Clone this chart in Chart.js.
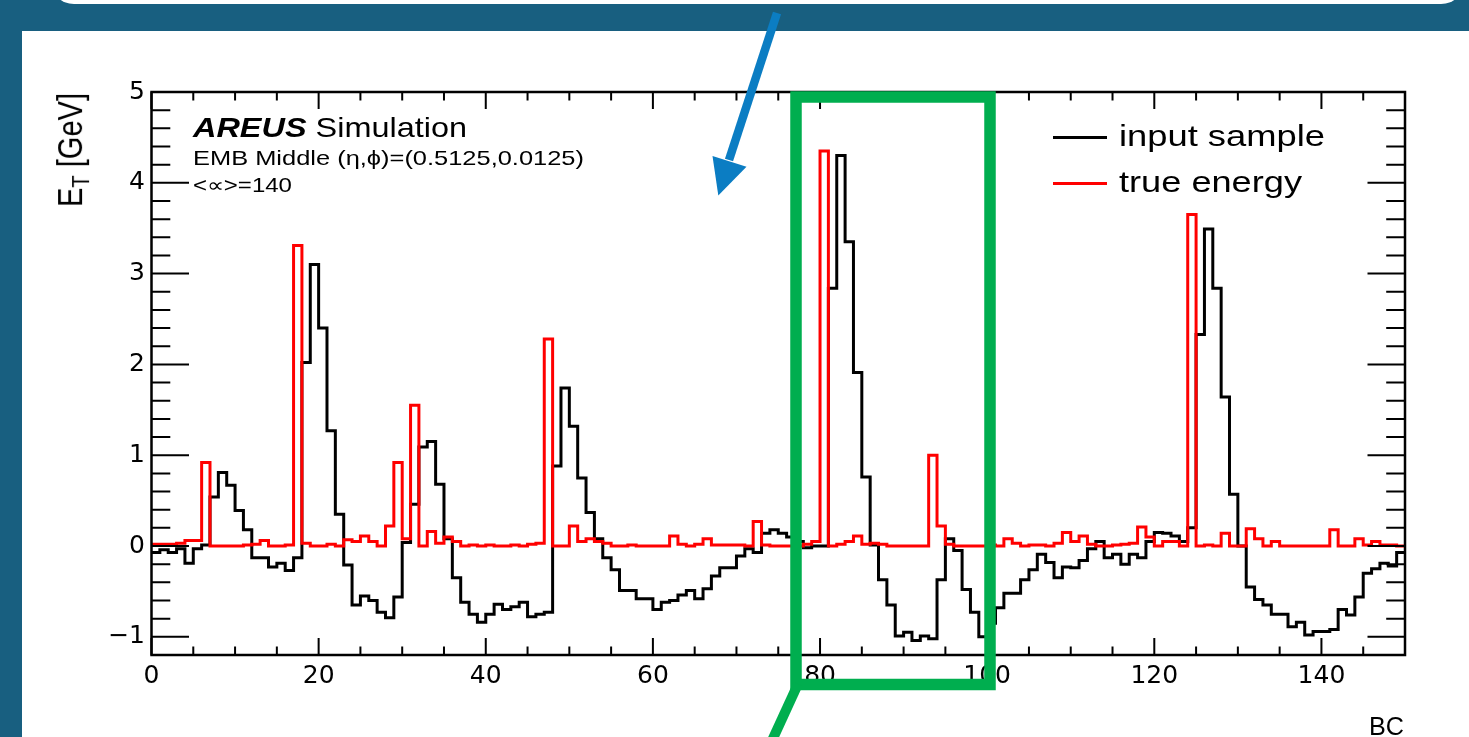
<!DOCTYPE html>
<html><head><meta charset="utf-8">
<script src="https://cdn.jsdelivr.net/npm/chart.js@4.4.1/dist/chart.umd.min.js"></script>
<style>
html,body{margin:0;padding:0;width:1469px;height:737px;overflow:hidden;background:#185f80;font-family:"Liberation Sans",Arial,Helvetica,sans-serif;}
#topbar{position:absolute;left:50px;right:4px;top:-30px;height:33.5px;background:#fff;border-radius:0 0 24px 24px;}
#panel{position:absolute;left:22px;top:30.5px;right:0;bottom:0;background:#fff;}
#c{position:absolute;left:0;top:0;}
.txt{position:absolute;left:0;top:0;white-space:nowrap;line-height:1;color:#000;transform-origin:0 0;}
.lg{position:absolute;height:3px;}
svg{position:absolute;left:0;top:0;}
</style></head>
<body>
<div id="topbar"></div><div id="panel"></div>
<canvas id="c" width="1469" height="737"></canvas>
<div class="txt fit" data-w="274" style="left:193px;top:114.3px;font-size:28px;"><b><i>AREUS</i></b> Simulation</div>
<div class="txt fit" data-w="391" style="left:193px;top:147.2px;font-size:21px;">EMB Middle (η,ϕ)=(0.5125,0.0125)</div>
<div class="txt fit" data-w="99" style="left:193px;top:175px;font-size:20px;">&lt;∝&gt;=140</div>
<div class="txt fit" data-w="35" style="left:1369px;top:713px;font-size:26px;" id="xtitle">BC</div>
<div class="txt" id="ytitle" style="font-size:29px;transform:translate(53.5px,93px) rotate(-90deg) scaleY(1.2) translateX(-100%);">E<span style="font-size:70%;position:relative;top:0.32em">T</span> [GeV]</div>
<div id="legend"></div>
<svg width="1469" height="737">
  <line x1="777" y1="13" x2="729" y2="160" stroke="#0b7dc3" stroke-width="8.5"/>
  <polygon points="718.3,195.5 712.5,156 746.5,166.7" fill="#0b7dc3"/>
  <rect x="796" y="97" width="194" height="587.5" fill="none" stroke="#00ae4f" stroke-width="11.5"/>
  <line x1="798" y1="684" x2="770" y2="745" stroke="#00ae4f" stroke-width="10"/>
</svg>
<script>
// ---- data ----
const seriesNames = ['input sample', 'true energy'];
const inputSample = [
 -0.07,-0.04,-0.07,-0.03,-0.19,-0.03,0.01,0.54,0.81,0.67,
 0.39,0.18,-0.13,-0.13,-0.23,-0.19,-0.27,-0.13,2.02,3.10,
 2.40,1.27,0.35,-0.21,-0.65,-0.55,-0.60,-0.73,-0.79,-0.56,
 0.04,0.46,1.09,1.15,0.68,0.08,-0.35,-0.62,-0.75,-0.84,
 -0.75,-0.64,-0.70,-0.67,-0.62,-0.78,-0.75,-0.73,0.88,1.74,
 1.32,0.75,0.37,0.08,-0.13,-0.26,-0.49,-0.49,-0.58,-0.58,
 -0.70,-0.62,-0.60,-0.54,-0.49,-0.58,-0.47,-0.33,-0.24,-0.24,
 -0.11,-0.03,-0.07,0.14,0.18,0.14,0.10,0.05,-0.02,0.00,
 0.00,2.84,4.30,3.35,1.91,0.76,0.01,-0.37,-0.65,-0.99,
 -0.95,-1.04,-0.99,-1.02,-0.37,0.08,-0.05,-0.48,-0.73,-1.00,
 -0.85,-0.68,-0.52,-0.52,-0.37,-0.26,-0.09,-0.18,-0.35,-0.23,
 -0.24,-0.16,-0.03,0.05,-0.13,-0.09,-0.20,-0.09,-0.13,0.05,
 0.15,0.14,0.11,0.05,0.20,2.33,3.49,2.84,1.64,0.57,
 0.00,-0.45,-0.59,-0.65,-0.75,-0.75,-0.89,-0.84,-0.98,-0.94,
 -0.94,-0.92,-0.70,-0.76,-0.56,-0.30,-0.25,-0.19,-0.22,-0.07
];
const trueEnergy = [
 0.02,0.02,0.02,0.03,0.06,0.06,0.92,0.00,0.00,0.00,
 0.00,0.01,0.02,0.06,0.00,0.00,0.01,3.31,0.03,0.00,
 0.00,0.02,0.00,0.07,0.05,0.11,0.05,0.00,0.22,0.92,
 0.08,1.55,0.00,0.16,0.03,0.10,0.05,0.00,0.01,0.00,
 0.01,0.00,0.00,0.01,0.00,0.02,0.03,2.28,0.00,0.00,
 0.22,0.05,0.08,0.05,0.03,0.00,0.00,0.01,0.00,0.00,
 0.00,0.00,0.11,0.02,0.00,0.02,0.08,0.01,0.01,0.01,
 0.01,0.00,0.27,0.01,0.00,0.00,0.00,0.00,0.02,0.05,
 4.35,0.00,0.02,0.05,0.11,0.02,0.03,0.02,0.00,0.00,
 0.00,0.00,0.00,1.00,0.22,0.02,0.00,0.00,0.00,0.00,
 0.01,0.00,0.08,0.03,0.00,0.01,0.01,0.00,0.03,0.15,
 0.05,0.11,0.02,0.00,0.00,0.01,0.02,0.03,0.21,0.10,
 0.00,0.05,0.05,0.00,3.65,0.00,0.01,0.00,0.14,0.00,
 0.00,0.19,0.08,0.00,0.05,0.00,0.00,0.00,0.00,0.00,
 0.00,0.18,0.00,0.00,0.08,0.01,0.05,0.01,0.01,0.00
];
const xTickValues = [0, 20, 40, 60, 80, 100, 120, 140];
const yTickValues = [-1, 0, 1, 2, 3, 4, 5];
const seriesColors = ['#000000', '#ff0000'];

// ---- axis ranges ----
const X_MIN = 0, X_MAX = 150, Y_MIN = -1.2, Y_MAX = 5;
const X_MINOR = 5, X_MAJOR = 20, Y_MINOR = 0.2, Y_MAJOR = 1;
const TICK_FONT = '"DejaVu Sans", "Liberation Sans", Arial, sans-serif';

function histPoints(vals) {
  const pts = vals.map((v, i) => ({ x: X_MIN + i, y: v }));
  pts.push({ x: X_MIN + vals.length, y: vals[vals.length - 1] });
  return pts;
}

const frameTicks = {
  id: 'frameTicks',
  afterDatasetsDraw(chart) {
    const { ctx, chartArea: a, scales: { x, y } } = chart;
    ctx.save();
    ctx.strokeStyle = '#000';
    ctx.lineWidth = 2;
    ctx.beginPath();
    const nx = Math.round((X_MAX - X_MIN) / X_MINOR);
    for (let k = 0; k <= nx; k++) {
      const v = X_MIN + k * X_MINOR;
      const px = x.getPixelForValue(v);
      const major = Math.abs(v / X_MAJOR - Math.round(v / X_MAJOR)) < 1e-6;
      const L = major ? 17 : 8.5;
      ctx.moveTo(px, a.bottom); ctx.lineTo(px, a.bottom - L);
      ctx.moveTo(px, a.top); ctx.lineTo(px, a.top + L);
    }
    const ny = Math.round((Y_MAX - Y_MIN) / Y_MINOR);
    for (let k = 0; k <= ny; k++) {
      const v = Y_MIN + k * Y_MINOR;
      const py = y.getPixelForValue(v);
      const major = Math.abs(v / Y_MAJOR - Math.round(v / Y_MAJOR)) < 1e-6;
      const L = major ? 37.5 : 18.8;
      ctx.moveTo(a.left, py); ctx.lineTo(a.left + L, py);
      ctx.moveTo(a.right, py); ctx.lineTo(a.right - L, py);
    }
    ctx.stroke();
    ctx.lineWidth = 2.5;
    ctx.strokeRect(a.left, a.top, a.right - a.left, a.bottom - a.top);
    ctx.restore();
  }
};

const chart = new Chart(document.getElementById('c'), {
  type: 'line',
  data: {
    datasets: [
      { label: seriesNames[0], data: histPoints(inputSample), borderColor: seriesColors[0], borderWidth: 3,
        stepped: true, pointRadius: 0, fill: false, order: 2, borderJoinStyle: 'miter', borderCapStyle: 'butt' },
      { label: seriesNames[1], data: histPoints(trueEnergy), borderColor: seriesColors[1], borderWidth: 3,
        stepped: true, pointRadius: 0, fill: false, order: 1, borderJoinStyle: 'miter', borderCapStyle: 'butt' }
    ]
  },
  options: {
    responsive: false,
    animation: false,
    events: [],
    layout: { padding: { left: 0, top: 92, right: 64, bottom: 0 } },
    plugins: { legend: { display: false }, tooltip: { enabled: false } },
    scales: {
      x: {
        type: 'linear', min: X_MIN, max: X_MAX,
        afterBuildTicks: s => { s.ticks = xTickValues.map(v => ({ value: v })); },
        afterFit: s => { s.height = 82; },
        grid: { display: false, drawTicks: false }, border: { display: false },
        ticks: { font: { family: TICK_FONT, size: 25 }, color: '#000', padding: 6, maxRotation: 0, autoSkip: false }
      },
      y: {
        type: 'linear', min: Y_MIN, max: Y_MAX,
        afterBuildTicks: s => { s.ticks = yTickValues.map(v => ({ value: v })); },
        afterFit: s => { s.width = 151.5; },
        grid: { display: false, drawTicks: false }, border: { display: false },
        ticks: { font: { family: TICK_FONT, size: 25 }, color: '#000', padding: 6.5, autoSkip: false,
          callback: v => (v < 0 ? '\u2212' + Math.abs(v) : String(v)) }
      }
    }
  },
  plugins: [frameTicks]
});

// legend built from the datasets
const legendLineY = [137.3, 183.3];
const lg = document.getElementById('legend');
chart.data.datasets.forEach((ds, i) => {
  const ln = document.createElement('div');
  ln.className = 'lg';
  ln.style.left = '1053px'; ln.style.width = '54px';
  ln.style.top = (legendLineY[i] - 1.5) + 'px';
  ln.style.background = ds.borderColor;
  lg.appendChild(ln);
  const t = document.createElement('div');
  t.className = 'txt fit';
  t.dataset.w = i === 0 ? '206' : '183';
  t.style.fontSize = '30px';
  t.style.left = '1119px';
  t.style.top = (legendLineY[i] + 9.3 - 0.8465 * 30) + 'px';
  t.textContent = ds.label;
  lg.appendChild(t);
});

// horizontal stretch of the texts to match the picture
document.querySelectorAll('.fit').forEach(el => {
  const w = el.getBoundingClientRect().width;
  const target = parseFloat(el.dataset.w);
  el.style.transform = 'scaleX(' + (target / w) + ')';
});
</script>
</body></html>
